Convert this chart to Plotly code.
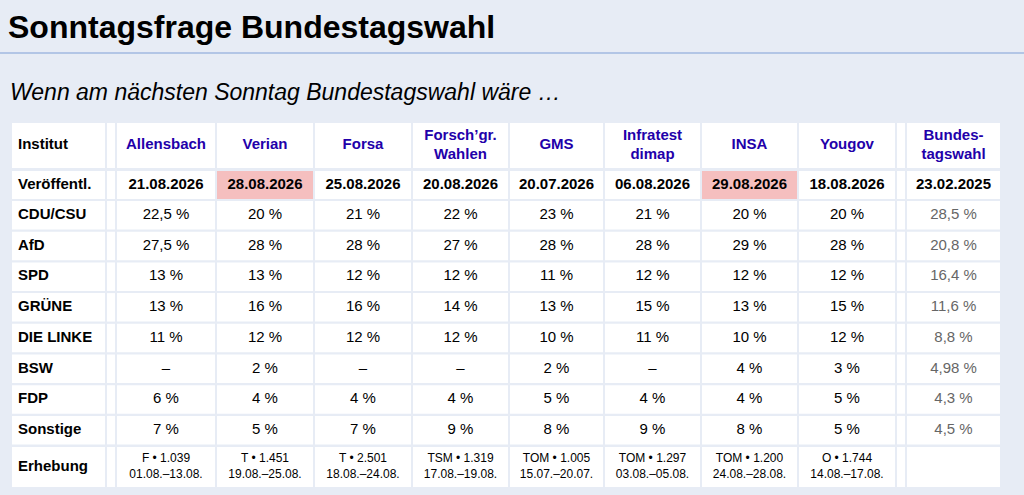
import plotly.graph_objects as go

institute = ["Allensbach", "Verian", "Forsa", "Forsch’gr.<br>Wahlen", "GMS", "Infratest<br>dimap", "INSA", "Yougov"]
dates = ["21.08.2026", "28.08.2026", "25.08.2026", "20.08.2026", "20.07.2026", "06.08.2026", "29.08.2026", "18.08.2026"]
parties = ["CDU/CSU", "AfD", "SPD", "GRÜNE", "DIE LINKE", "BSW", "FDP", "Sonstige"]
values = [
    ["22,5 %", "27,5 %", "13 %", "13 %", "11 %", "–", "6 %", "7 %"],
    ["20 %", "28 %", "13 %", "16 %", "12 %", "2 %", "4 %", "5 %"],
    ["21 %", "28 %", "12 %", "16 %", "12 %", "–", "4 %", "7 %"],
    ["22 %", "27 %", "12 %", "14 %", "12 %", "–", "4 %", "9 %"],
    ["23 %", "28 %", "11 %", "13 %", "10 %", "2 %", "5 %", "8 %"],
    ["21 %", "28 %", "12 %", "15 %", "11 %", "–", "4 %", "9 %"],
    ["20 %", "29 %", "12 %", "13 %", "10 %", "4 %", "4 %", "8 %"],
    ["20 %", "28 %", "12 %", "15 %", "12 %", "3 %", "5 %", "5 %"],
]
erhebung = ["F • 1.039<br>01.08.–13.08.", "T • 1.451<br>19.08.–25.08.", "T • 2.501<br>18.08.–24.08.",
            "TSM • 1.319<br>17.08.–19.08.", "TOM • 1.005<br>15.07.–20.07.", "TOM • 1.297<br>03.08.–05.08.",
            "TOM • 1.200<br>24.08.–28.08.", "O • 1.744<br>14.08.–17.08."]
wahl_date = "23.02.2025"
wahl = ["28,5 %", "20,8 %", "16,4 %", "11,6 %", "8,8 %", "4,98 %", "4,3 %", "4,5 %"]
highlight = ["28.08.2026", "29.08.2026"]

bg = "#e7ecf5"
font = "Liberation Sans, Arial"

# layout grid (pixel space)
col_edges = [(12, 105), (107, 115), (117, 215), (217, 313), (315, 411), (413, 508), (510, 603),
             (605, 700), (702, 797), (799, 895), (897, 905), (907, 1000)]
row_edges = [(123, 168), (171, 199)] + [(201 + 30.7 * i, 229.5 + 30.7 * i) for i in range(8)] + [(447, 487)]

inst_cols = list(range(2, 10))
wahl_col = 11

fig = go.Figure()

# cell backgrounds
for r, (y0, y1) in enumerate(row_edges):
    for c, (x0, x1) in enumerate(col_edges):
        color = "white"
        if r == 1 and c in inst_cols and dates[c - 2] in highlight:
            color = "#f5bfbf"
        fig.add_shape(type="rect", x0=x0, x1=x1, y0=y0, y1=y1, xref="x", yref="y",
                      fillcolor=color, line=dict(width=0), layer="below")


def cx(c):
    return (col_edges[c][0] + col_edges[c][1]) / 2


def cy(r):
    return (row_edges[r][0] + row_edges[r][1]) / 2


def add_text(xs, ys, texts, size, color, pos="middle center"):
    fig.add_trace(go.Scatter(x=xs, y=ys, text=texts, mode="text", textposition=pos,
                             textfont=dict(family=font, size=size, color=color),
                             hoverinfo="skip", showlegend=False))


# row labels
labels = ["Institut", "Veröffentl."] + parties + ["Erhebung"]
add_text([18] * len(labels), [cy(r) for r in range(len(labels))], ["<b>" + s + "</b>" for s in labels],
         15, "black", "middle right")

# header
add_text([cx(c) for c in inst_cols] + [cx(wahl_col)], [cy(0)] * 9,
         ["<b>" + s + "</b>" for s in institute] + ["<b>Bundes-<br>tagswahl</b>"], 15, "#2200aa")

# dates
add_text([cx(c) for c in inst_cols] + [cx(wahl_col)], [cy(1)] * 9,
         ["<b>" + s + "</b>" for s in dates + [wahl_date]], 15, "black")

# values
xs, ys, ts = [], [], []
for i, c in enumerate(inst_cols):
    for r, v in enumerate(values[i]):
        xs.append(cx(c))
        ys.append(cy(r + 2))
        ts.append(v)
add_text(xs, ys, ts, 15, "black")
add_text([cx(wahl_col)] * len(wahl), [cy(r + 2) for r in range(len(wahl))], wahl, 15, "#666666")

# erhebung
add_text([cx(c) for c in inst_cols], [cy(10)] * 8, erhebung, 12, "black")

fig.add_annotation(text="<b>Sonntagsfrage Bundestagswahl</b>", x=6 / 1024, y=1 - 27 / 495,
                   xref="paper", yref="paper", xanchor="left", yanchor="middle", showarrow=False,
                   font=dict(family=font, size=32, color="black"))
fig.add_annotation(text="<i>Wenn am nächsten Sonntag Bundestagswahl wäre …</i>", x=8 / 1024, y=1 - 92 / 495,
                   xref="paper", yref="paper", xanchor="left", yanchor="middle", showarrow=False,
                   font=dict(family=font, size=23, color="black"))
fig.add_shape(type="line", x0=0, x1=1, y0=1 - 53 / 495, y1=1 - 53 / 495, xref="paper", yref="paper",
              line=dict(color="#7f9fd6", width=1))

fig.update_xaxes(range=[0, 1024], visible=False, fixedrange=True)
fig.update_yaxes(range=[495, 0], visible=False, fixedrange=True)
fig.update_layout(width=1024, height=495, margin=dict(l=0, r=0, t=0, b=0),
                  paper_bgcolor=bg, plot_bgcolor=bg)
fig.write_html("out.html", config={"displayModeBar": False},
               post_script="document.body.style.margin='0';document.body.style.background='%s';" % bg)
